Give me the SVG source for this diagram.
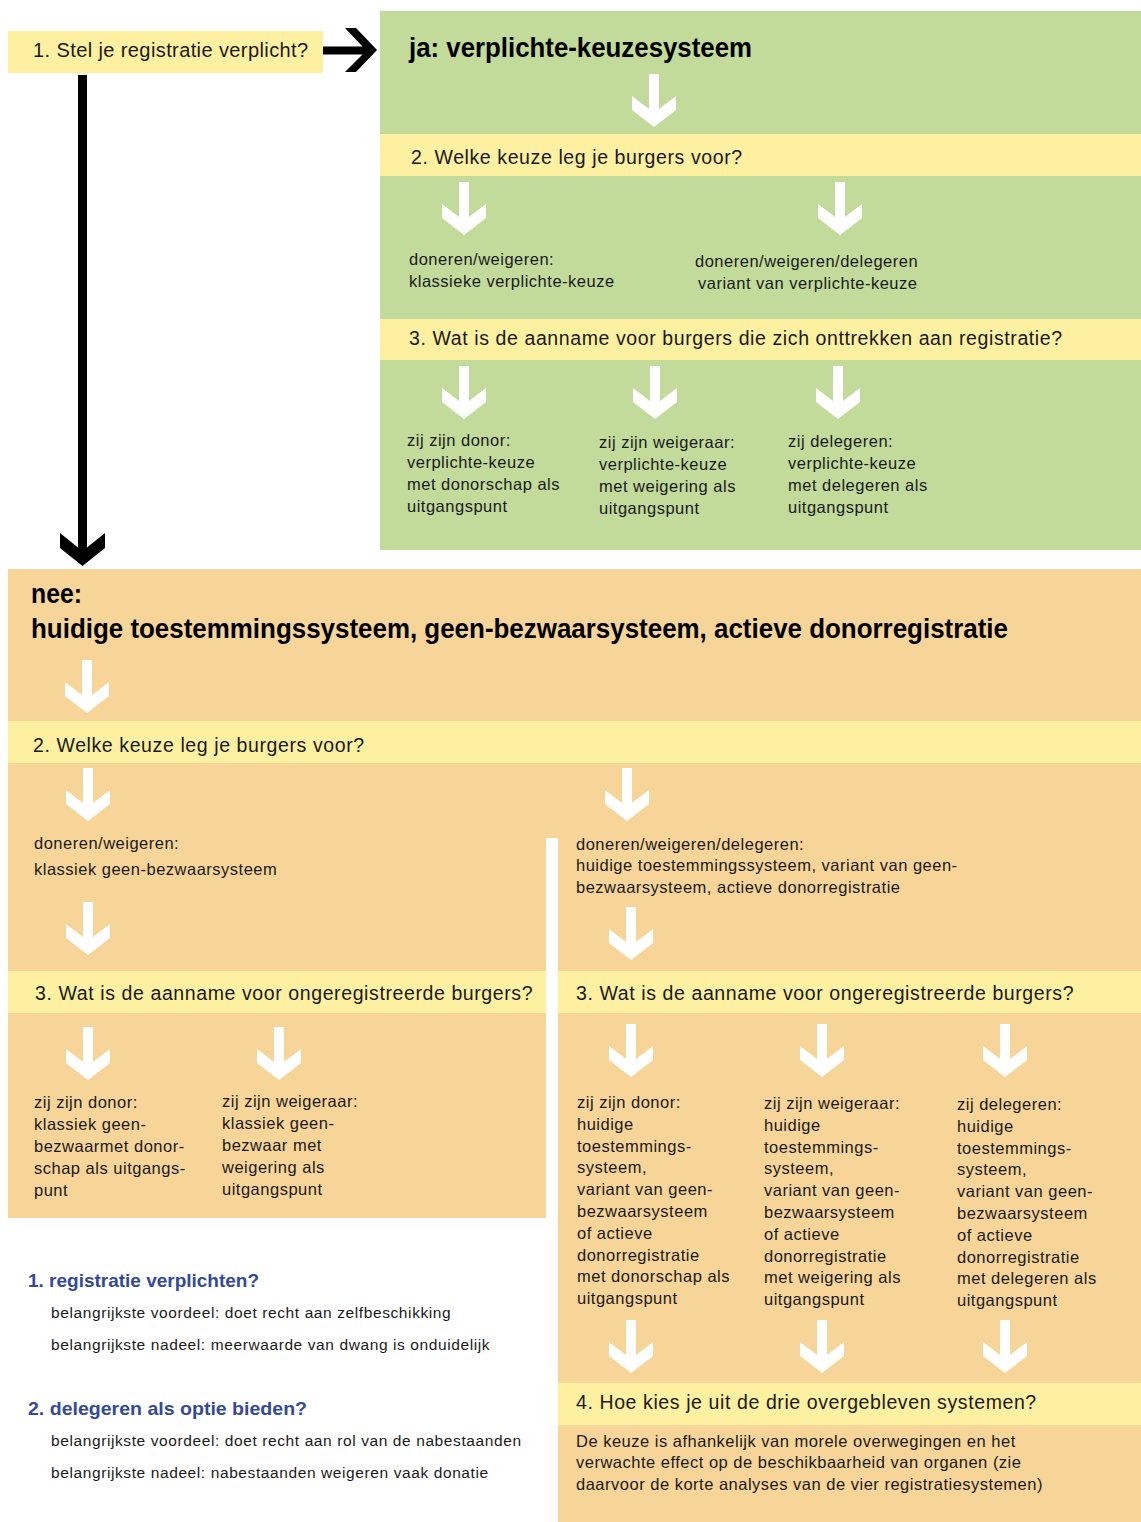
<svg xmlns="http://www.w3.org/2000/svg" xmlns:xlink="http://www.w3.org/1999/xlink" width="1141" height="1522" viewBox="0 0 1141 1522">
<style>
text{font-family:"Liberation Sans","DejaVu Sans",sans-serif;fill:#1a1a1a}
.q{font-size:19.5px;letter-spacing:0.6px}
.b{font-size:16.5px;letter-spacing:0.5px}
.s{font-size:15.5px;letter-spacing:0.6px}
.t{font-size:27px;font-weight:bold;fill:#000}
.h{font-size:19px;font-weight:bold;fill:#34499b}
.yel{fill:#fdf0a0}
.grn{fill:#c2da9a}
.org{fill:#f7d598}
</style>
<defs>
<path id="wa" d="M-5,-53 H5 V-18 L22,-31 V-17 L0,0 L-22,-17 V-31 L-5,-18 Z" fill="#fff"/>
</defs>
<rect width="1141" height="1522" fill="#fff"/>

<g id="q1">
<rect class="yel" x="8" y="31" width="315" height="42"/>
<text class="q" x="33" y="57" style="font-size:20px;letter-spacing:0.4px">1. Stel je registratie verplicht?</text>
</g>

<g id="ja">
<rect class="grn" x="380" y="11" width="761" height="539"/>
<text class="t" x="409" y="57" textLength="343" lengthAdjust="spacingAndGlyphs">ja: verplichte-keuzesysteem</text>
</g>
<g id="ja-q2">
<rect class="yel" x="380" y="134" width="761" height="42"/>
<text class="q" x="411" y="164">2. Welke keuze leg je burgers voor?</text>
</g>
<g id="ja-a1">
<text class="b" x="409" y="265">doneren/weigeren:</text>
<text class="b" x="409" y="287">klassieke verplichte-keuze</text>
</g>
<g id="ja-a2">
<text class="b" x="695" y="267">doneren/weigeren/delegeren</text>
<text class="b" x="698" y="289">variant van verplichte-keuze</text>
</g>
<g id="ja-q3">
<rect class="yel" x="380" y="319" width="761" height="41"/>
<text class="q" x="409" y="345">3. Wat is de aanname voor burgers die zich onttrekken aan registratie?</text>
</g>
<g id="ja-r1">
<text class="b" x="407" y="446">zij zijn donor:</text>
<text class="b" x="407" y="468">verplichte-keuze</text>
<text class="b" x="407" y="490">met donorschap als</text>
<text class="b" x="407" y="512">uitgangspunt</text>
</g>
<g id="ja-r2">
<text class="b" x="599" y="448">zij zijn weigeraar:</text>
<text class="b" x="599" y="470">verplichte-keuze</text>
<text class="b" x="599" y="492">met weigering als</text>
<text class="b" x="599" y="514">uitgangspunt</text>
</g>
<g id="ja-r3">
<text class="b" x="788" y="447">zij delegeren:</text>
<text class="b" x="788" y="469">verplichte-keuze</text>
<text class="b" x="788" y="491">met delegeren als</text>
<text class="b" x="788" y="513">uitgangspunt</text>
</g>

<g id="nee">
<rect class="org" x="8" y="569" width="1133" height="152"/>
<text class="t" x="31" y="603" textLength="51" lengthAdjust="spacingAndGlyphs">nee:</text>
<text class="t" x="31" y="638" textLength="977" lengthAdjust="spacingAndGlyphs">huidige toestemmingssysteem, geen-bezwaarsysteem, actieve donorregistratie</text>
</g>
<g id="nee-q2">
<rect class="yel" x="8" y="721" width="1133" height="42"/>
<text class="q" x="33" y="752">2. Welke keuze leg je burgers voor?</text>
</g>
<g id="nee-left">
<rect class="org" x="8" y="763" width="538" height="208"/>
<rect class="org" x="8" y="1013" width="538" height="205"/>
<text class="b" x="34" y="849">doneren/weigeren:</text>
<text class="b" x="34" y="875">klassiek geen-bezwaarsysteem</text>
</g>
<g id="nee-right">
<rect class="org" x="546" y="763" width="595" height="75"/>
<rect class="org" x="558" y="838" width="583" height="133"/>
<text class="b" x="576" y="850">doneren/weigeren/delegeren:</text>
<text class="b" x="576" y="871">huidige toestemmingssysteem, variant van geen-</text>
<text class="b" x="576" y="893">bezwaarsysteem, actieve donorregistratie</text>
</g>
<g id="nee-q3-left">
<rect class="yel" x="8" y="971" width="538" height="42"/>
<text class="q" x="35" y="1000">3. Wat is de aanname voor ongeregistreerde burgers?</text>
</g>
<g id="nee-q3-right">
<rect class="yel" x="558" y="971" width="583" height="42"/>
<text class="q" x="576" y="1000">3. Wat is de aanname voor ongeregistreerde burgers?</text>
</g>
<g id="nee-l1">
<text class="b" x="34" y="1108">zij zijn donor:</text>
<text class="b" x="34" y="1130">klassiek geen-</text>
<text class="b" x="34" y="1152">bezwaarmet donor-</text>
<text class="b" x="34" y="1174">schap als uitgangs-</text>
<text class="b" x="34" y="1196">punt</text>
</g>
<g id="nee-l2">
<text class="b" x="222" y="1107">zij zijn weigeraar:</text>
<text class="b" x="222" y="1129">klassiek geen-</text>
<text class="b" x="222" y="1151">bezwaar met</text>
<text class="b" x="222" y="1173">weigering als</text>
<text class="b" x="222" y="1195">uitgangspunt</text>
</g>
<g id="nee-right-body">
<rect class="org" x="558" y="1013" width="583" height="370"/>
</g>
<g id="nee-r1">
<text class="b" x="577" y="1108">zij zijn donor:</text>
<text class="b" x="577" y="1129.8">huidige</text>
<text class="b" x="577" y="1151.6">toestemmings-</text>
<text class="b" x="577" y="1173.4">systeem,</text>
<text class="b" x="577" y="1195.2">variant van geen-</text>
<text class="b" x="577" y="1217">bezwaarsysteem</text>
<text class="b" x="577" y="1238.8">of actieve</text>
<text class="b" x="577" y="1260.6">donorregistratie</text>
<text class="b" x="577" y="1282.4">met donorschap als</text>
<text class="b" x="577" y="1304.2">uitgangspunt</text>
</g>
<g id="nee-r2">
<text class="b" x="764" y="1109">zij zijn weigeraar:</text>
<text class="b" x="764" y="1130.8">huidige</text>
<text class="b" x="764" y="1152.6">toestemmings-</text>
<text class="b" x="764" y="1174.4">systeem,</text>
<text class="b" x="764" y="1196.2">variant van geen-</text>
<text class="b" x="764" y="1218">bezwaarsysteem</text>
<text class="b" x="764" y="1239.8">of actieve</text>
<text class="b" x="764" y="1261.6">donorregistratie</text>
<text class="b" x="764" y="1283.4">met weigering als</text>
<text class="b" x="764" y="1305.2">uitgangspunt</text>
</g>
<g id="nee-r3">
<text class="b" x="957" y="1110">zij delegeren:</text>
<text class="b" x="957" y="1131.8">huidige</text>
<text class="b" x="957" y="1153.6">toestemmings-</text>
<text class="b" x="957" y="1175.4">systeem,</text>
<text class="b" x="957" y="1197.2">variant van geen-</text>
<text class="b" x="957" y="1219">bezwaarsysteem</text>
<text class="b" x="957" y="1240.8">of actieve</text>
<text class="b" x="957" y="1262.6">donorregistratie</text>
<text class="b" x="957" y="1284.4">met delegeren als</text>
<text class="b" x="957" y="1306.2">uitgangspunt</text>
</g>
<g id="nee-q4">
<rect class="yel" x="558" y="1383" width="583" height="42"/>
<text class="q" x="576" y="1409">4. Hoe kies je uit de drie overgebleven systemen?</text>
</g>
<g id="nee-a4">
<rect class="org" x="558" y="1425" width="583" height="97"/>
<text class="b" x="576" y="1447">De keuze is afhankelijk van morele overwegingen en het</text>
<text class="b" x="576" y="1468">verwachte effect op de beschikbaarheid van organen (zie</text>
<text class="b" x="576" y="1490">daarvoor de korte analyses van de vier registratiesystemen)</text>
</g>

<g id="legend-1">
<text class="h" x="28" y="1287" textLength="231" lengthAdjust="spacingAndGlyphs">1. registratie verplichten?</text>
<text class="s" x="51" y="1318">belangrijkste voordeel: doet recht aan zelfbeschikking</text>
<text class="s" x="51" y="1350">belangrijkste nadeel: meerwaarde van dwang is onduidelijk</text>
</g>
<g id="legend-2">
<text class="h" x="28" y="1415" textLength="279" lengthAdjust="spacingAndGlyphs">2. delegeren als optie bieden?</text>
<text class="s" x="51" y="1446">belangrijkste voordeel: doet recht aan rol van de nabestaanden</text>
<text class="s" x="51" y="1478">belangrijkste nadeel: nabestaanden weigeren vaak donatie</text>
</g>

<g id="connectors">
<path d="M323,46.5 H362.5 L345,28 H356 L377,50 L356,72 H345 L362.5,54.5 H323 Z" fill="#000"/>
<path d="M78,75 H87 V547.5 L105,533 V548 L82.5,566 L60,548 V533 L78,547.5 Z" fill="#000"/>
<use xlink:href="#wa" x="654" y="127"/>
<use xlink:href="#wa" x="464" y="235"/>
<use xlink:href="#wa" x="840" y="235"/>
<use xlink:href="#wa" x="464" y="419"/>
<use xlink:href="#wa" x="655" y="419"/>
<use xlink:href="#wa" x="838" y="419"/>
<use xlink:href="#wa" x="87" y="713"/>
<use xlink:href="#wa" x="88" y="821"/>
<use xlink:href="#wa" x="627" y="821"/>
<use xlink:href="#wa" x="88" y="955"/>
<use xlink:href="#wa" x="631" y="960"/>
<use xlink:href="#wa" x="88" y="1080"/>
<use xlink:href="#wa" x="279" y="1080"/>
<use xlink:href="#wa" x="631" y="1077"/>
<use xlink:href="#wa" x="822" y="1077"/>
<use xlink:href="#wa" x="1005" y="1077"/>
<use xlink:href="#wa" x="631" y="1373"/>
<use xlink:href="#wa" x="822" y="1373"/>
<use xlink:href="#wa" x="1005" y="1373"/>
</g>
</svg>
